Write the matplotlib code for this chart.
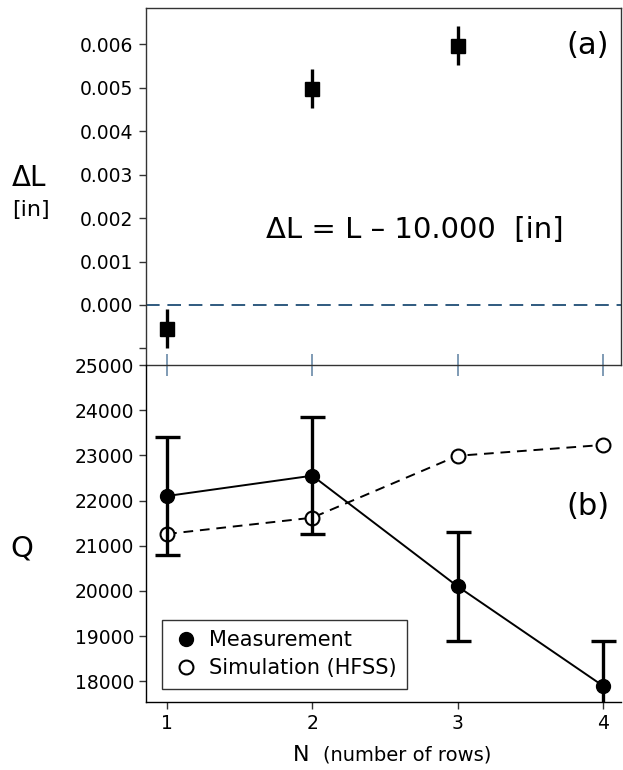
import matplotlib
matplotlib.use("Agg")
import matplotlib.pyplot as plt
from matplotlib.ticker import FixedLocator, FuncFormatter
from matplotlib.lines import Line2D

plt.rcParams['font.family'] = ['DejaVu Sans']

# Panel (a): length offset
n_len = [1, 2, 3]
dL = [-0.00055, 0.00497, 0.00596]
dL_err = [0.00045, 0.00045, 0.00045]

# Panel (b): quality factor
n_rows = [1, 2, 3, 4]
q_meas = [22100, 22550, 20100, 17900]
q_meas_err = [1300, 1300, 1200, 1000]
q_sim = [21260, 21620, 22990, 23230]

x_ticks = [1, 2, 3, 4]
dl_ticks = [-0.001, 0.0, 0.001, 0.002, 0.003, 0.004, 0.005, 0.006]
q_ticks = [18000, 19000, 20000, 21000, 22000, 23000, 24000, 25000]

W, H = 623, 770
fig = plt.figure(figsize=(W / 100, H / 100), dpi=100)

left = 146 / W
right = 621 / W
mid = 1 - 365 / H
top = 1 - 8 / H
bot = 1 - 702 / H

xlim = (0.855, 4.125)
spine_col = '#333333'
tick_col = '#6a8aa8'

# ---------- panel (a) ----------
axa = fig.add_axes([left, mid, right - left, top - mid])
axa.set_xlim(*xlim)
axa.set_ylim(-0.00138, 0.00683)
axa.axhline(0.0, color='#2f5a7f', lw=1.4, ls=(0, (7, 4)), zorder=1)
axa.errorbar(n_len, dL, yerr=dL_err, fmt='s', color='black', ms=10.5,
             elinewidth=2.4, capsize=0, zorder=3)
axa.yaxis.set_major_locator(FixedLocator(dl_ticks))
axa.yaxis.set_major_formatter(FuncFormatter(lambda v, p: '' if v < -1e-9 else f'{v:.3f}'))
axa.tick_params(axis='y', direction='out', length=5, width=1, color=spine_col,
                labelsize=13.5, pad=4)
axa.xaxis.set_major_locator(FixedLocator(x_ticks))
axa.tick_params(axis='x', direction='inout', length=16, width=1.2, color=tick_col,
                labelbottom=False)
for s in axa.spines.values():
    s.set_color(spine_col)
    s.set_linewidth(1.0)

axa.text(0.975, 0.894, '(a)', transform=axa.transAxes, ha='right', va='center',
         fontsize=22)
axa.text(0.566, 0.378, 'ΔL = L – 10.000  [in]', transform=axa.transAxes,
         ha='center', va='center', fontsize=21)

# ---------- panel (b) ----------
axb = fig.add_axes([left, bot, right - left, mid - bot])
axb.set_xlim(*xlim)
axb.set_ylim(17540, 25000)
axb.plot(n_rows, q_sim, ls=(0, (5, 3.5)), color='black', lw=1.4, marker='o',
         ms=10, mfc='white', mec='black', mew=1.5, zorder=3)
axb.errorbar(n_rows, q_meas, yerr=q_meas_err, fmt='-o', color='black', lw=1.4,
             ms=10, elinewidth=2.4, capsize=9, capthick=2.4, zorder=4)
axb.yaxis.set_major_locator(FixedLocator(q_ticks))
axb.xaxis.set_major_locator(FixedLocator(x_ticks))
axb.tick_params(axis='both', direction='out', length=5, width=1, color=spine_col,
                labelsize=13.5)
axb.yaxis.set_major_formatter(FuncFormatter(lambda v, p: f'{int(v)}'))
axb.spines['top'].set_visible(False)
axb.spines['right'].set_visible(False)
for s in ('left', 'bottom'):
    axb.spines[s].set_color('black')
    axb.spines[s].set_linewidth(1.0)
axb.patch.set_alpha(0)

axb.text(0.975, 0.58, '(b)', transform=axb.transAxes, ha='right', va='center',
         fontsize=22)

handles = [
    Line2D([], [], ls='none', marker='o', ms=10, color='black', label='Measurement'),
    Line2D([], [], ls='none', marker='o', ms=10, mfc='white', mec='black', mew=1.5,
           label='Simulation (HFSS)'),
]
leg = axb.legend(handles=handles, loc='lower left', bbox_to_anchor=(0.034, 0.039),
                 fontsize=15, frameon=True, fancybox=False, handletextpad=0.45,
                 handlelength=1.3, borderpad=0.5, labelspacing=0.4,
                 borderaxespad=0)
leg.get_frame().set_edgecolor('black')
leg.get_frame().set_linewidth(1.0)

# axis titles
fig.text(12 / W, 1 - 178 / H, 'ΔL', ha='left', va='center', fontsize=20)
fig.text(12 / W, 1 - 210 / H, '[in]', ha='left', va='center', fontsize=16)
fig.text(10 / W, 1 - 549 / H, 'Q', ha='left', va='center', fontsize=21)
fig.text(293 / W, 1 - 755 / H, 'N', ha='left', va='center', fontsize=16)
fig.text(323 / W, 1 - 755 / H, '(number of rows)', ha='left', va='center', fontsize=14)

fig.savefig('out.png', dpi=100)
